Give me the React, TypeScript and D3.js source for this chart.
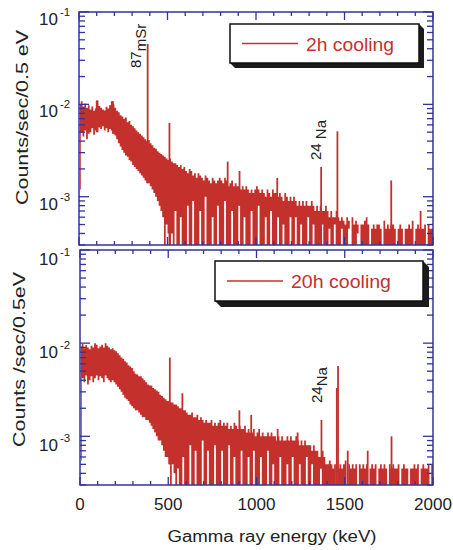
import React from "react";
import * as d3 from "d3";

// spectra binned in 10 keV steps, values in units of 1e-4 counts/sec/0.5 eV
// hi = top of the noise band, lo = bottom (0 = down to zero counts), hi 0 = empty bin
const binWidth = 10;
const startEnergy = 5;

const hi2h = [
  100, 108, 95, 102, 92, 98, 88, 95, 85, 90, 110, 96, 92, 88, 86, 94, 90, 98, 108, 100,
  92, 85, 82, 76, 74, 70, 72, 64, 66, 60, 58, 55, 52, 50, 48, 46, 44, 42, 40, 41,
  38, 36, 34, 33, 31, 30, 29, 28, 27, 26, 25, 26, 24, 23, 23, 22, 21, 22, 20, 21,
  19, 18, 20, 19, 17, 18, 16, 18, 17, 16, 15, 17, 16, 15, 14, 16, 15, 14, 15, 16,
  15, 14, 16, 15, 13, 14, 15, 13, 14, 13, 13, 12, 13, 12, 13, 12, 11, 12, 11, 12,
  13, 12, 11, 12, 11, 10, 12, 11, 10, 12, 11, 11, 10, 11, 10, 9, 11, 10, 9, 10,
  9, 10, 9, 8, 9, 8, 9, 8, 9, 8, 8, 9, 8, 7, 8, 7, 8, 7, 7, 8,
  7, 6, 7, 6, 6, 7, 6, 5.5, 6, 5.5, 5, 6, 5.5, 0, 6, 5, 5.5, 5, 0, 5,
  5, 5.5, 6, 5, 0, 4.5, 5, 4.5, 5, 5, 4.5, 0, 5.5, 4.5, 5, 4.5, 5, 5, 4.5, 0,
  4.5, 5, 4.5, 0, 4.5, 4.5, 5, 4.5, 5.5, 0, 4.5, 5, 4.5, 4.5, 4.5, 5, 0, 5, 4.5, 4.5,
];
const lo2h = [
  12, 50, 45, 52, 42, 48, 50, 55, 47, 52, 50, 56, 54, 58, 52, 55, 50, 54, 52, 48,
  46, 42, 38, 35, 32, 30, 28, 27, 25, 24, 22, 21, 20, 19, 18, 17, 16, 15, 14, 14,
  13, 12, 11, 10, 9, 8, 7, 6, 0, 5, 4, 0, 4, 0, 7, 0, 0, 6, 0, 0,
  0, 8, 0, 0, 9, 0, 0, 0, 7, 0, 0, 10, 0, 0, 0, 6, 0, 0, 8, 0,
  0, 0, 9, 0, 0, 0, 7, 0, 0, 0, 8, 0, 0, 6, 0, 0, 0, 7, 0, 0,
  0, 8, 0, 0, 0, 6, 0, 0, 7, 0, 0, 0, 6, 0, 0, 5, 0, 0, 0, 6,
  0, 0, 6, 0, 0, 5, 0, 0, 0, 6, 0, 0, 5, 0, 0, 0, 0, 5, 0, 0,
  0, 4.5, 0, 0, 5, 0, 0, 0, 4.5, 0, 0, 0, 4.5, 0, 0, 0, 0, 4, 0, 0,
];
const peakE2h = [100, 192, 388, 511, 840, 907, 1120, 1368, 1460, 1764, 1930];
const peakV2h = [110, 108, 450, 63, 24, 19, 16, 21, 51, 15, 7];

const hi20h = [
  92, 98, 88, 95, 90, 86, 94, 90, 100, 96, 88, 92, 96, 90, 100, 94, 90, 86, 88, 84,
  82, 78, 74, 70, 68, 64, 62, 58, 56, 54, 50, 47, 46, 44, 44, 42, 40, 38, 36, 35,
  35, 33, 32, 31, 30, 28, 27, 26, 25, 24, 24, 23, 23, 22, 22, 21, 20, 20, 19, 19,
  18, 17, 17, 18, 16, 16, 17, 15, 16, 15, 14, 15, 14, 14, 15, 13, 14, 13, 14, 15,
  13, 14, 13, 14, 12, 13, 12, 14, 13, 12, 13, 12, 12, 13, 11, 12, 11, 11, 12, 10,
  11, 12, 10, 11, 10, 10, 11, 10, 11, 10, 10, 9, 10, 9, 10, 9, 9, 10, 9, 10,
  9, 9, 10, 9, 8, 9, 8, 9, 8, 8, 8, 7, 8, 7, 7, 6, 6, 7, 6, 5,
  5, 5.5, 5, 4.5, 5, 0, 4.5, 5, 4.5, 5, 5.5, 0, 5, 4.5, 5, 4.5, 5, 0, 5, 4.5,
  5, 4.5, 5, 0, 4.5, 5, 4.5, 5, 0, 4.5, 5, 4.5, 5, 4.5, 0, 5, 4.5, 5, 4.5, 4.5,
  5, 0, 4.5, 5, 4.5, 4.5, 0, 4.5, 4.5, 5, 4.5, 5, 0, 4.5, 5, 4.5, 4.5, 5, 0, 5,
];
const lo20h = [
  5.5, 42, 38, 45, 36, 40, 44, 38, 42, 45, 40, 44, 42, 38, 45, 42, 40, 38, 40, 38,
  36, 34, 32, 30, 28, 26, 25, 24, 22, 21, 20, 19, 19, 18, 17, 16, 16, 15, 15, 14,
  13, 12, 11, 10, 9, 9, 8, 7, 6, 6, 5, 0, 5, 4, 0, 4.5, 0, 0, 6, 0,
  0, 0, 8, 0, 0, 7, 0, 0, 0, 9, 0, 0, 7, 0, 0, 0, 8, 0, 0, 0,
  7, 0, 0, 0, 8, 0, 0, 6, 0, 0, 0, 7, 0, 0, 0, 6, 0, 0, 7, 0,
  0, 0, 6, 0, 0, 0, 7, 0, 0, 5, 0, 0, 0, 6, 0, 0, 0, 5, 0, 0,
  6, 0, 0, 0, 5, 0, 0, 0, 6, 0, 0, 5, 0, 0, 0, 0, 4.5, 0, 0, 0,
];
const peakE20h = [509, 580, 903, 970, 1120, 1233, 1368, 1455, 1462, 1517, 1630, 1765];
const peakV20h = [70, 29, 19, 17, 12, 11, 15, 33, 57, 7, 7, 10];

const xTicks = [0, 500, 1000, 1500, 2000];
const decades = [1e-3, 1e-2, 1e-1];
const decadeExp = ["-3", "-2", "-1"];

const red = "#c4312d";
const blue = "#33339c";
const font = "'Liberation Sans', Arial, sans-serif";

type PanelProps = {
  id: string;
  left: number;
  right: number;
  top: number;
  bottom: number;
  hi: number[];
  lo: number[];
  peakE: number[];
  peakV: number[];
  labelDy: number;
};

const Panel = ({ id, left, right, top, bottom, hi, lo, peakE, peakV, labelDy }: PanelProps) => {
  const x = d3.scaleLinear().domain([0, 2000]).range([left, right]);
  const y = d3.scaleLog().domain([3e-4, 0.1]).range([bottom, top]);
  const yv = (v: number) => (v > 0 ? y(v * 1e-4) : bottom);

  // one outline per run of non-empty bins: stepped top edge, then stepped bottom edge back
  const runs: number[][] = [];
  let cur: number[] = [];
  hi.forEach((h, i) => {
    if (h > 0) cur.push(i);
    else if (cur.length) {
      runs.push(cur);
      cur = [];
    }
  });
  if (cur.length) runs.push(cur);

  const path = d3.path();
  runs.forEach((run) => {
    const x0 = (i: number) => x(Math.max(startEnergy, i * binWidth));
    const x1 = (i: number) => x((i + 1) * binWidth);
    run.forEach((i, k) => {
      if (k === 0) path.moveTo(x0(i), yv(hi[i]));
      else path.lineTo(x0(i), yv(hi[i]));
      path.lineTo(x1(i), yv(hi[i]));
    });
    [...run].reverse().forEach((i) => {
      const l = Math.min(yv(lo[i] ?? 0), bottom);
      path.lineTo(x1(i), l);
      path.lineTo(x0(i), l);
    });
    path.closePath();
  });

  const minorX = d3.range(0, 2001, 100);
  const logTicks = y.ticks();

  return (
    <g>
      <defs>
        <clipPath id={"clip-" + id}>
          <rect x={left} y={top} width={right - left} height={bottom - top} />
        </clipPath>
      </defs>
      <g clipPath={`url(#clip-${id})`}>
        <path d={path.toString()} fill={red} />
        {peakE.map((e, i) => {
          const bin = Math.floor(e / binWidth);
          return (
            <line
              key={"p" + i}
              x1={x(e)}
              x2={x(e)}
              y1={yv(peakV[i])}
              y2={yv(lo[bin] ?? 0)}
              stroke={red}
              strokeWidth={1.8}
            />
          );
        })}
      </g>
      <rect x={left} y={top} width={right - left} height={bottom - top} fill="none" stroke={blue} strokeWidth={1.5} />
      {minorX.map((t) => {
        const len = t % 500 === 0 ? 8 : 4;
        return (
          <g key={"x" + t} stroke={blue} strokeWidth={1.3}>
            <line x1={x(t)} x2={x(t)} y1={bottom} y2={bottom - len} />
            <line x1={x(t)} x2={x(t)} y1={top} y2={top + len} />
          </g>
        );
      })}
      {logTicks.map((t, i) => {
        const major = Math.abs(Math.log10(t) - Math.round(Math.log10(t))) < 1e-6;
        const len = major ? 10 : 6;
        return (
          <g key={"y" + i} stroke={blue} strokeWidth={1.3}>
            <line x1={left} x2={left + len} y1={y(t)} y2={y(t)} />
            <line x1={right} x2={right - len} y1={y(t)} y2={y(t)} />
          </g>
        );
      })}
      {decades.map((d, i) => (
        <g key={"l" + i} fontFamily={font} fill="#222">
          <text x={58} y={y(d) + labelDy} fontSize={17} textAnchor="end">
            10
          </text>
          <text x={60} y={y(d) + labelDy - 9} fontSize={11.5}>
            {decadeExp[i]}
          </text>
        </g>
      ))}
    </g>
  );
};

const Legend = ({ x0, y0, x1, y1, d, lx0, lx1, text, textLen }: any) => (
  <g>
    <polygon
      points={`${x1},${y0} ${x1 + d},${y0 + d} ${x1 + d},${y1 + d} ${x0 + d},${y1 + d} ${x0},${y1}`}
      fill="#1b1b1b"
    />
    <rect x={x0} y={y0} width={x1 - x0} height={y1 - y0} fill="#fff" stroke="#111" strokeWidth={1.5} />
    <line x1={lx0} x2={lx1} y1={(y0 + y1) / 2} y2={(y0 + y1) / 2} stroke={red} strokeWidth={1.3} />
    <text
      x={lx1 + 8}
      y={(y0 + y1) / 2 + 7}
      fontSize={18}
      fontFamily={font}
      fill={red}
      textLength={textLen}
      lengthAdjust="spacingAndGlyphs"
    >
      {text}
    </text>
  </g>
);

const App = () => {
  const xAxis = d3.scaleLinear().domain([0, 2000]).range([80, 433]);
  return (
    <svg width={453} height={550} style={{ position: "absolute", left: 0, top: 0, background: "#fff" }}>
      <Panel id="a" left={79} right={433} top={12} bottom={245} hi={hi2h} lo={lo2h} peakE={peakE2h} peakV={peakV2h} labelDy={13} />
      <Panel id="b" left={80} right={433} top={250} bottom={485} hi={hi20h} lo={lo20h} peakE={peakE20h} peakV={peakV20h} labelDy={15} />

      <Legend x0={230} y0={24} x1={419} y1={63} d={5} lx0={242} lx1={298} text="2h cooling" textLen={88} />
      <Legend x0={215} y0={261} x1={423} y1={301} d={6} lx0={227} lx1={283} text="20h cooling" textLen={100} />

      <g fontFamily={font} fill="#222" fontSize={15}>
        <text transform="translate(146,68) rotate(-90)">
          <tspan dy={-5}>87</tspan>
          <tspan dy={5}>mSr</tspan>
        </text>
        <text transform="translate(326,160) rotate(-90)">
          <tspan dy={-5}>24 </tspan>
          <tspan dy={5}>Na</tspan>
        </text>
        <text transform="translate(327,403) rotate(-90)">
          <tspan dy={-5}>24</tspan>
          <tspan dy={5}>Na</tspan>
        </text>
      </g>

      <g fontFamily={font} fill="#222">
        {xTicks.map((t) => (
          <text key={t} x={xAxis(t)} y={510} fontSize={17} textAnchor="middle">
            {t}
          </text>
        ))}
        <text x={272} y={542} fontSize={16} textAnchor="middle" textLength={209} lengthAdjust="spacingAndGlyphs">
          Gamma ray energy (keV)
        </text>
        <text
          transform="translate(28,117.5) rotate(-90)"
          fontSize={16.5}
          textAnchor="middle"
          textLength={175}
          lengthAdjust="spacingAndGlyphs"
        >
          Counts/sec/0.5 eV
        </text>
        <text
          transform="translate(25,359.5) rotate(-90)"
          fontSize={16.5}
          textAnchor="middle"
          textLength={175}
          lengthAdjust="spacingAndGlyphs"
        >
          Counts /sec/0.5eV
        </text>
      </g>
    </svg>
  );
};

export default App;
